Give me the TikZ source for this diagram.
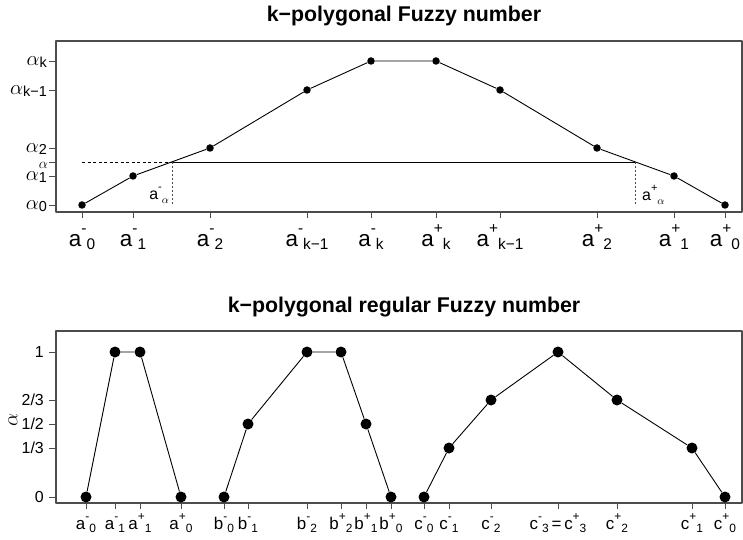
\documentclass[tikz,border=0pt]{standalone}
\usepackage{fontspec}
\setmainfont{Liberation Sans}
\usetikzlibrary{positioning}

% label a^{sup}_{sub}, the sub after the sup
\newcommand{\subsz}{\fontsize{15.5}{16}\selectfont}
\newcommand{\supr}{.62em}
\newcommand{\subd}{.13em}
\newcommand{\fz}[3]{#1\raisebox{\supr}{\subsz #2}\raisebox{-\subd}{\subsz #3}}
\newcommand{\al}[1]{$\alpha$\raisebox{-\subd}{\subsz #1}}

\newcommand{\ttlfont}{\fontsize{21.4}{24}\selectfont\bfseries}
\newcommand{\toplabfont}{\fontsize{22.5}{24}\selectfont\renewcommand{\subsz}{\fontsize{15.5}{16}\selectfont}\renewcommand{\supr}{.62em}\renewcommand{\subd}{.13em}}
\newcommand{\smlabfont}{\fontsize{16}{17}\selectfont\renewcommand{\subsz}{\fontsize{11}{12}\selectfont}\renewcommand{\supr}{.6em}\renewcommand{\subd}{.2em}}
\newcommand{\ylabfont}{\fontsize{22}{24}\selectfont\renewcommand{\subsz}{\fontsize{14.5}{15}\selectfont}\renewcommand{\subd}{.05em}}
\newcommand{\botlabfont}{\fontsize{17}{18}\selectfont\renewcommand{\subsz}{\fontsize{12}{13}\selectfont}\renewcommand{\supr}{.5em}\renewcommand{\subd}{.23em}}
\newcommand{\ynumfont}{\fontsize{16}{18}\selectfont}

\begin{document}
\begin{tikzpicture}[
    x=1bp, y=-1bp,
    line join=round,
    dot/.style={circle, fill, inner sep=0pt, minimum size=7.5bp},
    bigdot/.style={circle, fill, inner sep=0pt, minimum size=11bp},
    frame/.style={draw=black!70, line width=1.1bp},
    poly/.style={line width=0.9bp},
    tickmark/.style={draw=black!70, line width=0.8bp},
    dashln/.style={line width=0.8bp, dash pattern=on 3bp off 2.5bp},
    vdash/.style={line width=0.8bp, black!70, dash pattern=on 2bp off 2bp},
    ttl/.style={font=\ttlfont, anchor=base, inner sep=0pt},
    toplab/.style={font=\toplabfont, anchor=base, inner sep=0pt},
    smlab/.style={font=\smlabfont, inner sep=0pt},
    botlab/.style={font=\botlabfont, anchor=base, inner sep=0pt},
    ylab/.style={font=\ylabfont, anchor=base east, inner sep=0pt},
    ynum/.style={font=\ynumfont, anchor=east, inner sep=0pt}
]
  \useasboundingbox (0,0) rectangle (743,540);

  % top panel
  \node[ttl] (ttop) at (404,22) {k−polygonal Fuzzy number};
  \draw[frame] (56,41) rectangle (742,212);

  \foreach \i/\x/\y/\s/\b in {0/82/205/-/0, 1/133/176/-/1, 2/210/148/-/2,
      3/307/90/-/k−1, 4/371/61/-/k, 5/436/61/+/k, 6/500/90/+/k−1,
      7/597/148/+/2, 8/674/176/+/1, 9/725/205/+/0}{
    \node[dot] (p\i) at (\x,\y) {};
    \draw[tickmark] (\x,212) -- (\x,218);
    \node[toplab] (lp\i) at (\x,247) {\fz{a}{\s}{\b}};
  }
  \draw[poly] (p0) -- (p1) -- (p2) -- (p3) -- (p4) -- (p5) -- (p6) -- (p7) -- (p8) -- (p9);

  \foreach \i/\y/\t in {0/205/0, 1/176/1, 2/148/2, 3/90/k−1, 4/61/k}{
    \draw[tickmark] (49,\y) -- (56,\y);
    \node[ylab] (ya\i) at (47,\y+5) {\al{\t}};
  }
  \draw[tickmark] (49,162) -- (56,162);
  \node[font=\fontsize{14}{15}\selectfont, anchor=east, inner sep=0pt] (yal) at (48,165) {$\alpha$};

  % alpha cut
  \coordinate (c0) at (82,162);
  \coordinate (cm) at (172,162);
  \coordinate (cp) at (635,162);
  \coordinate (fm) at (172,206);
  \coordinate (fp) at (635,206);
  \draw[dashln] (c0) -- (cm);
  \draw[poly] (cm) -- (cp);
  \draw[vdash] (cm) -- (fm);
  \draw[vdash] (cp) -- (fp);
  \node[smlab, anchor=base east] (lam) at (169,200) {\fz{a}{-}{$\alpha$}};
  \node[smlab, anchor=base west] (lap) at (642,201) {\fz{a}{+}{$\alpha$}};

  % bottom panel
  \node[ttl] (tbot) at (404,312) {k−polygonal regular Fuzzy number};
  \draw[frame] (56,331) rectangle (742,503);

  \foreach \i/\x/\y/\t in {1/86/497/{\fz{a}{-}{0}}, 2/115/352/{\fz{a}{-}{1}},
      3/140/352/{\fz{a}{+}{1}}, 4/181/497/{\fz{a}{+}{0}},
      5/224/497/{\fz{b}{-}{0}}, 6/248/424/{\fz{b}{-}{1}},
      7/307/352/{\fz{b}{-}{2}}, 8/341/352/{\fz{b}{+}{2}},
      9/366/424/{\fz{b}{+}{1}}, 10/391/497/{\fz{b}{+}{0}},
      11/424/497/{\fz{c}{-}{0}}, 12/449/448/{\fz{c}{-}{1}},
      13/491/400/{\fz{c}{-}{2}}, 14/558/352/{\fz{c}{-}{3}\,=\,\fz{c}{+}{3}},
      15/617/400/{\fz{c}{+}{2}}, 16/692/448/{\fz{c}{+}{1}},
      17/725/497/{\fz{c}{+}{0}}}{
    \node[bigdot] (q\i) at (\x,\y) {};
    \draw[tickmark] (\x,503) -- (\x,509);
    \node[botlab] (lq\i) at (\x,529) {\t};
  }
  \draw[poly] (q1) -- (q2) -- (q3) -- (q4);
  \draw[poly] (q5) -- (q6) -- (q7) -- (q8) -- (q9) -- (q10);
  \draw[poly] (q11) -- (q12) -- (q13) -- (q14) -- (q15) -- (q16) -- (q17);

  \foreach \y in {352, 400, 424, 448, 497}
    \draw[tickmark] (49,\y) -- (56,\y);
  \node[ynum] (yn1) at (44,352) {1};
  \node[ynum] (yn2) at (44,400) {2/3};
  \node[ynum] (yn3) at (44,424) {1/2};
  \node[ynum] (yn4) at (44,448) {1/3};
  \node[ynum] (yn5) at (44,497) {0};
  \node[rotate=90, font=\fontsize{20}{22}\selectfont, inner sep=0pt] (yaxis) at (13,420) {$\alpha$};
\end{tikzpicture}
\end{document}
